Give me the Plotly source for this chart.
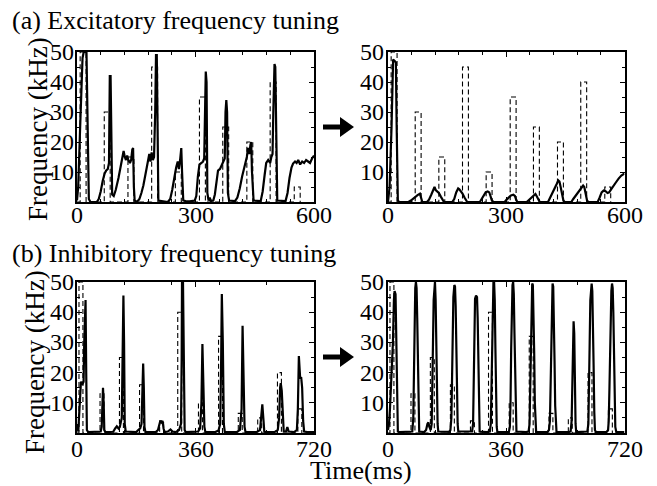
import plotly.graph_objects as go

# ---------------- data ----------------
# (a) excitatory tuning, before (left) : time [ms], frequency [kHz]
exc_before_t = [0, 3, 8, 11, 14, 17, 24, 27, 30, 34, 50, 55, 60, 65, 70, 74, 78, 81, 83, 85, 87, 89, 93, 98,
                105, 110, 116, 118, 121, 124, 127, 130, 134, 137, 140, 142, 144, 146, 152, 158, 163, 168, 173,
                176, 180, 183, 186, 189, 192, 195, 198, 200, 202, 204, 206, 230, 236, 241, 246, 251, 255, 258,
                261, 264, 266, 269, 275, 285, 298, 302, 306, 310, 315, 319, 322, 324, 326, 328, 330, 333, 336,
                339, 345, 349, 353, 357, 362, 366, 370, 374, 376, 378, 380, 382, 385, 400, 406, 412, 418, 425,
                430, 433, 436, 439, 441, 443, 447, 465, 470, 475, 479, 484, 489, 492, 495, 497, 500, 502, 504,
                507, 528, 533, 538, 543, 547, 552, 556, 560, 565, 570, 575, 580, 585, 590, 595, 600]
exc_before_v = [0.5, 5, 25, 40, 48, 50, 50, 25, 1, 0, 0, 1, 3.5, 7, 9.5, 10.5, 11, 13, 42, 42, 8, 2.5, 2, 4,
                8, 12, 15.5, 17, 15, 14, 15.5, 14, 13, 14, 17.5, 18, 5, 0.5, 0, 1, 3, 5.5, 9,
                11.5, 14, 16, 13.5, 16.5, 14, 15, 30, 49, 49, 20, 0.5, 0, 1, 4, 8, 11.5, 13.5, 11,
                14, 18, 10, 0.5, 0.3, 0.2, 0.5, 2, 8.5, 12.5, 13, 13.5, 14.5, 40, 43.5, 40, 3, 0.5, 1.5,
                0.3, 0.5, 2.5, 6, 10.5, 11, 12, 13.5, 14.5, 30, 34, 30, 3, 0.5, 0.3, 1.5, 4.5, 8.5, 12.5,
                15, 18, 16, 19, 20, 10, 0.5, 0.3, 3.5, 9, 13, 14, 13, 15, 16, 30, 46, 45, 20,
                0.5, 0.3, 3, 8, 11.5, 12.8, 13.5, 13, 14, 12.5, 13.5, 13, 14, 13.5, 13, 14.5, 15.5]

# (a) excitatory tuning, after (right)
exc_after_t = [0, 4, 9, 13, 17, 20, 22, 25, 28, 52, 58, 66, 75, 81, 84, 87, 99, 104, 110, 115, 118, 121, 125,
               129, 134, 138, 142, 163, 168, 173, 178, 181, 185, 189, 194, 198, 201, 233, 238, 243, 248, 253,
               257, 260, 263, 267, 296, 301, 306, 312, 318, 322, 325, 328, 352, 358, 364, 370, 374, 377, 381,
               385, 406, 412, 418, 423, 428, 432, 435, 438, 441, 445, 448, 465, 470, 477, 484, 490, 495, 498,
               501, 505, 508, 532, 537, 542, 547, 552, 557, 561, 566, 572, 578, 585, 592, 600]
exc_after_v = [0, 5, 25, 47.5, 47, 46.5, 25, 0.5, 0, 0, 0.5, 1.5, 2.3, 2.8, 1.2, 0, 0, 0.8, 2.5, 4.5, 5, 4, 3.5,
               3, 1.8, 0.8, 0, 0, 1, 3.2, 4.5, 4.2, 3.5, 2.8, 1.5, 0.5, 0, 0, 1.2, 2.6, 3.3, 3.5,
               3.2, 2, 0.7, 0, 0, 0.8, 1.6, 2.2, 2.4, 2, 0.8, 0, 0, 0.8, 1.5, 2.2, 2.7, 2, 0.7,
               0, 0, 1.5, 3, 4.5, 6, 7.2, 6.8, 5, 2.5, 0.5, 0, 0, 1, 2.2, 3.3, 4.5, 5.5, 5,
               2.5, 0.5, 0, 0, 1.5, 3.2, 3.8, 3.6, 3, 3.2, 4.2, 5.5, 6.5, 7.8, 8.8, 9.5]

# (a) stimulus pulses (dashed)
stim_a_onsets = [8, 69, 129, 189, 249, 310, 369, 430, 489, 550]
stim_a_heights = [50, 30, 15, 45, 10, 35, 25, 20, 40, 5]
stim_a_width = 15

# (b) inhibitory tuning, before (left)
inh_before_t = [0, 2, 4, 6, 9, 12, 16, 20, 22, 24, 26, 28, 30, 34, 60, 72, 75, 77, 79, 81, 83, 86, 110, 116,
                121, 126, 130, 136, 139, 141, 143, 145, 148, 180, 186, 192, 196, 199, 201, 203, 205, 208, 240,
                246, 250, 253, 257, 260, 263, 266, 276, 284, 290, 300, 310, 316, 318, 319, 322, 324, 327, 330,
                360, 368, 374, 378, 381, 384, 387, 390, 420, 430, 435, 438, 440, 443, 446, 449, 485, 495, 500,
                503, 506, 509, 512, 545, 556, 560, 563, 566, 569, 572, 600, 610, 614, 617, 619, 622, 625, 628,
                635, 639, 643, 660, 668, 671, 674, 676, 678, 681, 684, 687, 690, 700, 720]
inh_before_v = [3, 1.5, 0.5, 5, 14, 17, 16, 17, 30, 43.5, 44, 20, 1, 0.3, 0.3, 0.5, 2, 10, 15, 10, 1, 0.3, 0.4, 1.5,
                2.2, 1.5, 2, 5, 30, 45.5, 30, 3, 0.5, 0.3, 1, 1.5, 3, 15, 23, 15, 2, 0.3, 0.4,
                1, 3.5, 4, 3.5, 4, 1.5, 0.3, 0.5, 1.2, 0.5, 0.3, 1, 3, 25, 50, 50, 25, 1, 0.3,
                0.3, 0.5, 1.5, 10, 29.5, 15, 2, 0.3, 0.3, 0.8, 3, 25, 46, 30, 3, 0.3, 0.3, 1, 8,
                35.5, 15, 2, 0.3, 0.3, 1, 5, 9.5, 5, 0.5, 0.3, 0.3, 1, 5, 15, 16.5, 14, 4, 0.5,
                0.5, 2, 0.5, 0.3, 1, 8, 25.5, 20, 18, 18.5, 15, 4, 0.5, 0.3, 0.3]

# (b) inhibitory tuning, after (right)
inh_after_t = [0, 3, 6, 9, 12, 15, 18, 20, 23, 25, 27, 30, 34, 70, 74, 77, 79, 81, 83, 85, 87, 89, 91, 93, 95,
               110, 116, 120, 123, 126, 130, 133, 135, 137, 139, 141, 143, 145, 147, 149, 151, 153, 175, 186,
               190, 193, 195, 197, 199, 202, 204, 206, 208, 210, 212, 214, 250, 256, 259, 261, 263, 265, 268,
               271, 273, 275, 277, 279, 300, 310, 313, 315, 317, 319, 321, 323, 325, 327, 329, 331, 333, 368,
               371, 373, 375, 377, 379, 381, 383, 385, 387, 389, 391, 420, 428, 431, 433, 435, 437, 439, 441,
               443, 445, 447, 449, 451, 485, 490, 493, 495, 497, 499, 501, 503, 505, 507, 509, 511, 513, 550,
               556, 559, 561, 563, 565, 567, 569, 571, 573, 600, 607, 610, 612, 614, 616, 618, 620, 622, 624,
               626, 628, 630, 633, 665, 670, 672, 674, 676, 678, 680, 682, 684, 686, 688, 690, 692, 695, 720]
inh_after_v = [1, 3, 8, 16, 19, 30, 44, 47, 46, 30, 8, 0.5, 0.3, 0.3, 0.5, 5, 20, 38, 48, 50, 48, 38, 20, 5, 0.5,
               0.3, 1, 3, 3.5, 2, 1, 3, 12, 30, 44, 49.5, 50, 44, 30, 12, 3, 0.5, 0.3, 0.4,
               1, 5, 18, 35, 45, 49, 48.5, 42, 28, 12, 3, 0.5, 0.3, 0.5, 3, 15, 35, 44.5, 45.5,
               45, 38, 20, 5, 0.5, 0.3, 0.5, 3, 15, 35, 47, 50, 50, 44, 28, 10, 2, 0.3, 0.3,
               2, 10, 28, 43, 49, 50, 46, 33, 17, 5, 0.5, 0.3, 0.5, 3, 14, 32, 45, 49.5, 49,
               42, 27, 10, 2, 0.3, 0.3, 1, 4, 14, 32, 45, 49.5, 48.5, 40, 24, 9, 2, 0.3, 0.3,
               0.5, 4, 20, 33, 37, 33, 15, 3, 0.3, 0.3, 0.5, 3, 12, 30, 44, 49, 49.5, 47, 38,
               22, 7, 1, 0.3, 0.3, 1, 4, 14, 30, 42, 47, 49.5, 48, 40, 25, 10, 2, 0.3, 0.3]

# (b) stimulus pulses (dashed)
stim_b_onsets = [6, 70, 129, 190, 251, 306, 369, 430, 490, 549, 609, 671]
stim_b_heights = [50, 13, 25, 16, 4, 40, 10, 32, 6.5, 5, 20, 8]
stim_b_width = 12

# tick labels
ticks_a = [0, 300, 600]
ticks_b = [0, 360, 720]
ticks_y = [10, 20, 30, 40, 50]

# ---------------- figure ----------------
W, H = 657, 486
FONT = "Liberation Serif, Times New Roman, serif"


def px(x):
    return x / W


def py(y):
    return 1 - y / H


def pulses(onsets, heights, width):
    xs, ys = [0], [0]
    for o, h in zip(onsets, heights):
        xs += [o, o, o + width, o + width]
        ys += [0, h, h, 0]
    return xs, ys


fig = go.Figure()
solid = dict(color="black", width=2.2)
dashed = dict(color="black", width=1.1, dash="5px,3px")

sa_x, sa_y = pulses(stim_a_onsets, stim_a_heights, stim_a_width)
sb_x, sb_y = pulses(stim_b_onsets, stim_b_heights, stim_b_width)

panels = [
    ("x", "y", exc_before_t, exc_before_v, sa_x, sa_y),
    ("x2", "y2", exc_after_t, exc_after_v, sa_x, sa_y),
    ("x3", "y3", inh_before_t, inh_before_v, sb_x, sb_y),
    ("x4", "y4", inh_after_t, inh_after_v, sb_x, sb_y),
]
for xa, ya, t, v, dx, dy in panels:
    fig.add_trace(go.Scatter(x=dx, y=dy, mode="lines", line=dashed, xaxis=xa, yaxis=ya,
                             showlegend=False, hoverinfo="skip"))
    fig.add_trace(go.Scatter(x=t, y=v, mode="lines", line=solid, xaxis=xa, yaxis=ya,
                             showlegend=False))

axis_common = dict(showline=True, linecolor="black", linewidth=1.5, mirror="allticks",
                   ticks="inside", ticklen=5, tickcolor="black", tickwidth=1,
                   showgrid=False, zeroline=False, showticklabels=False, automargin=False)

xdom_l = [px(77), px(314)]
xdom_r = [px(388), px(624.5)]
ydom_a = [py(202), py(52)]
ydom_b = [py(433), py(282)]


def xaxis(dom, anchor, rng, vals, mdt):
    return dict(axis_common, domain=dom, anchor=anchor, range=rng, tickmode="array",
                tickvals=vals,
                minor=dict(tickmode="linear", tick0=0, dtick=mdt, ticks="inside", ticklen=3,
                           tickcolor="black"))


def yaxis(dom, anchor):
    return dict(axis_common, domain=dom, anchor=anchor, range=[0, 50], tickmode="array",
                tickvals=ticks_y,
                minor=dict(tickmode="linear", tick0=0, dtick=5, ticks="inside", ticklen=3,
                           tickcolor="black"))


fig.update_layout(
    width=W, height=H, autosize=False,
    margin=dict(l=0, r=0, t=0, b=0, autoexpand=False),
    paper_bgcolor="white", plot_bgcolor="white",
    font=dict(family=FONT, color="black"),
    xaxis=xaxis(xdom_l, "y", [0, 600], ticks_a, 60),
    yaxis=yaxis(ydom_a, "x"),
    xaxis2=xaxis(xdom_r, "y2", [0, 600], ticks_a, 60),
    yaxis2=yaxis(ydom_a, "x2"),
    xaxis3=xaxis(xdom_l, "y3", [0, 720], ticks_b, 144),
    yaxis3=yaxis(ydom_b, "x3"),
    xaxis4=xaxis(xdom_r, "y4", [0, 720], ticks_b, 144),
    yaxis4=yaxis(ydom_b, "x4"),
)

ann = []
tickfont = dict(family=FONT, size=24, color="black")
txt = dict(family=FONT, size=26, color="black")

# tick labels placed through each axis' own scale
for xref, ticks, yrow in (("x", ticks_a, 215), ("x2", ticks_a, 215),
                          ("x3", ticks_b, 449), ("x4", ticks_b, 449)):
    for tv in ticks:
        ann.append(dict(text=str(tv), x=tv, xref=xref, y=py(yrow), yref="paper",
                        xanchor="center", yanchor="middle", showarrow=False, font=tickfont))
for yref, xcol in (("y", 76), ("y2", 386), ("y3", 76), ("y4", 386)):
    for tv in ticks_y:
        ann.append(dict(text=str(tv), x=px(xcol), xref="paper", y=tv, yref=yref,
                        xanchor="right", yanchor="middle", showarrow=False, font=tickfont))

ann.append(dict(text="(a) Excitatory frequency tuning", x=px(10), y=py(21), xref="paper", yref="paper",
                xanchor="left", yanchor="middle", showarrow=False, font=txt))
ann.append(dict(text="(b) Inhibitory frequency tuning", x=px(10), y=py(254), xref="paper", yref="paper",
                xanchor="left", yanchor="middle", showarrow=False, font=txt))
ann.append(dict(text="Frequency (kHz)", x=px(38), y=py(129), xref="paper", yref="paper",
                xanchor="center", yanchor="middle", textangle=-90, showarrow=False,
                font=dict(family=FONT, size=27, color="black")))
ann.append(dict(text="Frequency (kHz)", x=px(35), y=py(362), xref="paper", yref="paper",
                xanchor="center", yanchor="middle", textangle=-90, showarrow=False,
                font=dict(family=FONT, size=27, color="black")))
ann.append(dict(text="Time(ms)", x=px(361), y=py(470), xref="paper", yref="paper",
                xanchor="center", yanchor="middle", showarrow=False, font=txt))
fig.update_layout(annotations=ann)

# arrows between panels
shapes = []
for yc in (127, 357):
    shapes.append(dict(type="rect", xref="paper", yref="paper",
                       x0=px(323), x1=px(343), y0=py(yc + 2.5), y1=py(yc - 2.5),
                       fillcolor="black", line=dict(width=0)))
    path = "M {:.5f},{:.5f} L {:.5f},{:.5f} L {:.5f},{:.5f} Z".format(
        px(340), py(yc - 10), px(354), py(yc), px(340), py(yc + 10))
    shapes.append(dict(type="path", xref="paper", yref="paper", path=path,
                       fillcolor="black", line=dict(width=0)))
fig.update_layout(shapes=shapes)

fig.write_html("out.html", config={"displayModeBar": False},
               post_script="document.body.style.margin='0px';document.body.style.overflow='hidden';")
